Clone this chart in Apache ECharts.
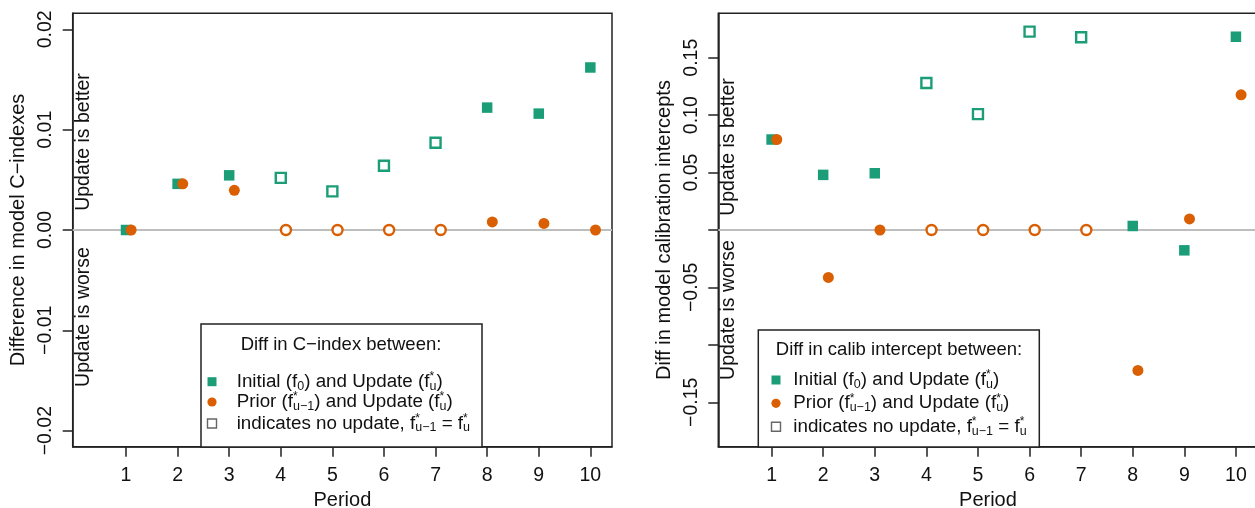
<!DOCTYPE html>
<html><head><meta charset="utf-8">
<script src="https://cdn.jsdelivr.net/npm/echarts@6/dist/echarts.min.js"></script>
<style>html,body{margin:0;padding:0;background:#fff}#c{width:1255px;height:508px}</style>
</head><body><div id="c"></div>
<script>
// ---------- data ----------
const periods = [1, 2, 3, 4, 5, 6, 7, 8, 9, 10];
const noUpdate = [false, false, false, true, true, true, true, false, false, false];
const cIndexInitial = [0.0000, 0.0046, 0.00545, 0.0052, 0.00385, 0.0064, 0.0087, 0.0122, 0.0116, 0.0162];
const cIndexPrior   = [0.0000, 0.0046, 0.00395, 0.0000, 0.0000, 0.0000, 0.0000, 0.0008, 0.00065, 0.0000];
const calibInitial  = [0.0788, 0.0480, 0.0494, 0.1280, 0.1009, 0.1727, 0.1678, 0.0035, -0.0177, 0.1683];
const calibPrior    = [0.0788, -0.0413, 0.0000, 0.0000, 0.0000, 0.0000, 0.0000, -0.1223, 0.0096, 0.1177];
const priorOffset = 0.1;
const cIndexTicks = [-0.02, -0.01, 0, 0.01, 0.02];
const calibTicks = [-0.15, -0.10, -0.05, 0, 0.05, 0.10, 0.15];
const calibTickLabels = [-0.15, -0.05, 0.05, 0.10, 0.15];
const yTitles = ['Difference in model C\u2212indexes', 'Diff in model calibration intercepts'];
const legendTitles = ['Diff in C\u2212index between:', 'Diff in calib intercept between:'];

// ---------- style ----------
const FONT = 'Liberation Sans, Arial, Helvetica, sans-serif';
const GREEN = '#1B9E77', ORANGE = '#D95F02', INK = '#111', AX = '#222';
const X_MIN = -0.033, X_MAX = 10.42;

const chart = echarts.init(document.getElementById('c'), null, {renderer: 'canvas'});

function fmt(v) {
  const s = Math.abs(v).toFixed(2);
  return (v < -1e-9 ? '\u2212' : '') + s;
}

function pointData(vals, dx, color, shape, size, hollowSize) {
  return vals.map((v, i) => ({
    value: [periods[i] + dx, v],
    symbol: shape,
    symbolSize: noUpdate[i] ? hollowSize : size,
    itemStyle: noUpdate[i]
      ? {color: '#fff', borderColor: color, borderWidth: 2.4, opacity: 1}
      : {color: color, borderWidth: 0, opacity: 1}
  }));
}

function xAxisCfg(gi) {
  return {
    type: 'value', gridIndex: gi, min: X_MIN, max: X_MAX,
    axisLine: {show: true, onZero: false, lineStyle: {color: AX, width: 1.5}},
    axisTick: {show: true, customValues: periods, length: 10, lineStyle: {color: AX, width: 1.5}},
    axisLabel: {customValues: periods, margin: 19, fontSize: 19.5, color: INK, fontFamily: FONT},
    splitLine: {show: false},
    name: 'Period', nameLocation: 'middle', nameGap: 40,
    nameTextStyle: {fontSize: 20, color: INK, fontFamily: FONT}
  };
}

function yAxisCfg(gi, lim, ticks, labels, title) {
  return {
    type: 'value', gridIndex: gi, min: -lim, max: lim,
    axisLine: {show: true, onZero: false, lineStyle: {color: AX, width: 1.5}},
    axisTick: {show: true, customValues: ticks, length: 10, lineStyle: {color: AX, width: 1.5}},
    axisLabel: {customValues: labels, rotate: 90, margin: 17, fontSize: 19.5, color: INK, fontFamily: FONT, formatter: fmt},
    splitLine: {show: false},
    name: title, nameLocation: 'middle', nameGap: 44, nameRotate: 90,
    nameTextStyle: {fontSize: 20, color: INK, fontFamily: FONT}
  };
}

function panelSeries(gi, initial, prior) {
  return [
    {type: 'line', xAxisIndex: gi, yAxisIndex: gi, data: [[X_MIN, 0], [X_MAX, 0]],
     symbol: 'none', silent: true, z: 1, lineStyle: {color: '#BEBEBE', width: 2}},
    {type: 'scatter', xAxisIndex: gi, yAxisIndex: gi, z: 2, itemStyle: {opacity: 1},
     data: pointData(initial, 0, GREEN, 'rect', 10.5, 10)},
    {type: 'scatter', xAxisIndex: gi, yAxisIndex: gi, z: 3, itemStyle: {opacity: 1},
     data: pointData(prior, priorOffset, ORANGE, 'circle', 11, 10)}
  ];
}

const gridBase = {show: true, borderColor: AX, borderWidth: 1.5, backgroundColor: 'transparent', containLabel: false, outerBoundsMode: 'none'};

chart.setOption({
  animation: false,
  backgroundColor: '#fff',
  grid: [
    Object.assign({left: 72.7, top: 13.3, width: 539.3, height: 433.4}, gridBase),
    Object.assign({left: 718.3, top: 13.3, width: 539.3, height: 433.4}, gridBase)
  ],
  xAxis: [xAxisCfg(0), xAxisCfg(1)],
  yAxis: [
    yAxisCfg(0, 0.0216, cIndexTicks, cIndexTicks, yTitles[0]),
    yAxisCfg(1, 0.1887, calibTicks, calibTickLabels, yTitles[1])
  ],
  series: panelSeries(0, cIndexInitial, cIndexPrior).concat(panelSeries(1, calibInitial, calibPrior))
});

// ---------- annotations & legends ----------
const rich = {
  s: {fontSize: 12.5, lineHeight: 12, verticalAlign: 'bottom', fontFamily: FONT, fill: INK},
  t: {fontSize: 12, lineHeight: 12, verticalAlign: 'top', width: 0, align: 'left', fontFamily: FONT, fill: INK}
};
const rowTexts = [
  'Initial (f{s|0}) and Update (f{t|*}{s|u})',
  'Prior (f{t|*}{s|u\u22121}) and Update (f{t|*}{s|u})',
  'indicates no update, f{t|*}{s|u\u22121} = f{t|*}{s|u}'
];

function sideNotes(gi, upOff, downOff) {
  const left = chart.convertToPixel({xAxisIndex: gi}, X_MIN);
  const zero = chart.convertToPixel({yAxisIndex: gi}, 0);
  const mk = (txt, y) => ({
    type: 'text', x: left + 10.5, y: y, rotation: Math.PI / 2, z: 20,
    style: {text: txt, fontSize: 19.5, fontFamily: FONT, fill: INK, align: 'center', verticalAlign: 'middle'}
  });
  return [mk('Update is better', zero - upOff), mk('Update is worse', zero + downOff)];
}

function legend(box, title, titleX, titleY, rowYs, symX, textX) {
  const els = [
    {type: 'rect', shape: {x: box[0], y: box[1], width: box[2], height: box[3]}, z: 30,
     style: {fill: '#fff', stroke: AX, lineWidth: 1.5}},
    {type: 'text', x: titleX, y: titleY, z: 31,
     style: {text: title, fontSize: 18.5, fontFamily: FONT, fill: INK, align: 'center', verticalAlign: 'middle'}},
    {type: 'rect', shape: {x: symX - 4.5, y: rowYs[0] - 4.5, width: 9, height: 9}, z: 31, style: {fill: GREEN}},
    {type: 'circle', shape: {cx: symX, cy: rowYs[1], r: 4.6}, z: 31, style: {fill: ORANGE}},
    {type: 'rect', shape: {x: symX - 4.5, y: rowYs[2] - 4.5, width: 9, height: 9}, z: 31,
     style: {fill: '#fff', stroke: '#666', lineWidth: 1.4}}
  ];
  rowTexts.forEach((t, i) => els.push({
    type: 'text', x: textX, y: rowYs[i], z: 31,
    style: {text: t, rich: rich, fontSize: 18.8, lineHeight: 22, fontFamily: FONT, fill: INK, align: 'left', verticalAlign: 'middle'}
  }));
  return els;
}

const graphics = []
  .concat(sideNotes(0, 88, 87))
  .concat(sideNotes(1, 83, 80))
  .concat(legend([201, 324, 281, 123], legendTitles[0], 341, 345, [381.7, 402, 423.5], 212, 236.7))
  .concat(legend([758.3, 330, 281, 117], legendTitles[1], 899, 350, [380, 403.3, 426.7], 776, 793.3));

chart.setOption({graphic: {elements: graphics}});
</script>
</body></html>
